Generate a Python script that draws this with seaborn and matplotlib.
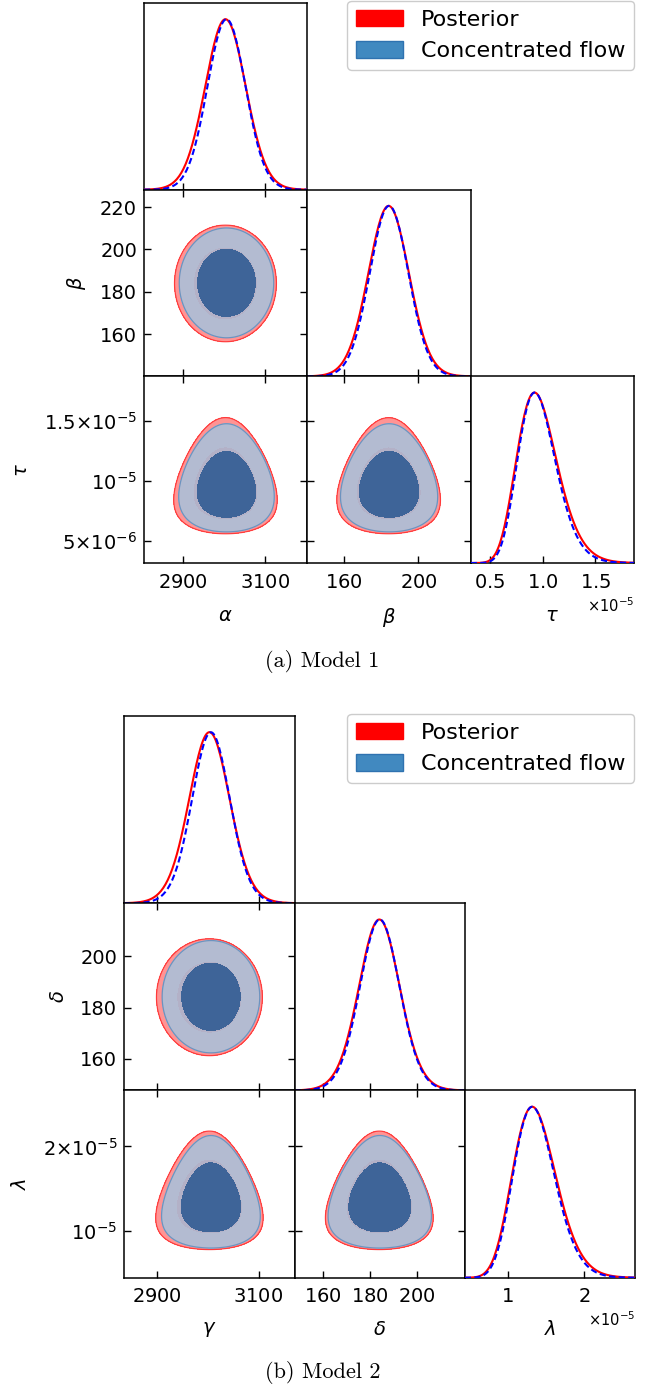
import numpy as np
import matplotlib
matplotlib.use("Agg")
import matplotlib.pyplot as plt
import seaborn as sns
from matplotlib.patches import Patch
from matplotlib.ticker import FixedLocator, FixedFormatter, ScalarFormatter, NullFormatter

# ---------------- data ----------------
# Each distribution: centre (mean, mean, median), spread (sd, sd, shape sd),
# taper (how the first two widths shrink with the third) and skew power.
# Model 1 : parameters alpha, beta, tau
M1_LABELS = [r"$\alpha$", r"$\beta$", r"$\tau$"]
M1_LIMITS = [(2805, 3204), (140, 228.2), (0.32e-5, 1.866e-5)]
M1_POST_CENTER = [3004, 183.9, 0.9576e-5]
M1_POST_SPREAD = [49.95, 11.06, 0.2028]
M1_POST_TAPER = 0.46
M1_POST_POWER = 0.143
M1_FLOW_CENTER = [3006.5, 184.15, 0.955e-5]
M1_FLOW_SPREAD = [46.7, 10.5, 0.19]
M1_FLOW_TAPER = 0.35
M1_FLOW_POWER = 0.15
M1_XTICKS = [[2900, 3100], [160, 200], [0.5e-5, 1.0e-5, 1.5e-5]]
M1_YTICKS = [[], [160, 180, 200, 220], [5e-6, 1e-5, 1.5e-5]]
M1_YTICKLABELS = [[], ["160", "180", "200", "220"],
                  [r"$5{\times}10^{-6}$", r"$10^{-5}$", r"$1.5{\times}10^{-5}$"]]

# Model 2 : parameters gamma, delta, lambda
M2_LABELS = [r"$\gamma$", r"$\delta$", r"$\lambda$"]
M2_LIMITS = [(2835, 3171), (147.7, 220.6), (0.44e-5, 2.665e-5)]
M2_POST_CENTER = [3003, 184.0, 1.361e-5]
M2_POST_SPREAD = [41.0, 8.927, 0.2099]
M2_POST_TAPER = 0.6505
M2_POST_POWER = 0.3416
M2_FLOW_CENTER = [3006, 184.2, 1.357e-5]
M2_FLOW_SPREAD = [38.08, 8.646, 0.200]
M2_FLOW_TAPER = 0.6039
M2_FLOW_POWER = 0.3397
M2_XTICKS = [[2900, 3100], [160, 180, 200], [1e-5, 2e-5]]
M2_YTICKS = [[], [160, 180, 200], [1e-5, 2e-5]]
M2_YTICKLABELS = [[], ["160", "180", "200"],
                  [r"$10^{-5}$", r"$2{\times}10^{-5}$"]]

SERIES = ["Posterior", "Concentrated flow"]
CAPTIONS = ["(a) Model 1", "(b) Model 2"]

# ---------------- styling ----------------
sns.set_style("ticks")
plt.rcParams["font.family"] = ["DejaVu Sans"]
plt.rcParams["mathtext.fontset"] = "dejavusans"
plt.rcParams["axes.linewidth"] = 1.1
for key in ("text.color", "axes.labelcolor", "xtick.color", "ytick.color", "axes.edgecolor"):
    plt.rcParams[key] = "black"

W, H = 655, 1386
fig = plt.figure(figsize=(W / 100, H / 100), dpi=100)

RED = "#ff0000"
BLUE_LIGHT = "#a7c2dc"
BLUE_DARK = "#3a6297"
BLUE_EDGE = "#6d93bf"
TICK_FS = 14
NG = 150


def joint_density(center, spread, taper, power, grids):
    a, b, t = np.meshgrid(*grids, indexing="ij")
    lr = np.log(t / center[2])
    g = np.exp(-taper * lr)
    u = np.expm1(power * lr) / power
    pt = np.exp(-0.5 * (u / spread[2]) ** 2 + (power - 1) * lr)
    sa = spread[0] * g
    sb = spread[1] * g
    return pt * np.exp(-0.5 * ((a - center[0]) / sa) ** 2
                       - 0.5 * ((b - center[1]) / sb) ** 2) / (sa * sb)


def hpd_levels(P, masses):
    flat = np.sort(P.ravel())[::-1]
    cum = np.cumsum(flat)
    cum /= cum[-1]
    return [flat[min(np.searchsorted(cum, m), flat.size - 1)] for m in masses]


def draw_2d(ax, gx, gy, P, kind):
    l95, l68 = hpd_levels(P, [0.95, 0.68])
    top = P.max() * 1.01
    if kind == 0:
        ax.contourf(gx, gy, P.T, levels=[l95, top], colors=[RED], alpha=0.42)
        ax.contourf(gx, gy, P.T, levels=[l68, top], colors=[RED], alpha=0.45)
        ax.contour(gx, gy, P.T, levels=[l95], colors=[RED], linewidths=0.9, alpha=0.6)
    else:
        ax.contourf(gx, gy, P.T, levels=[l95, top], colors=[BLUE_LIGHT], alpha=0.86)
        ax.contour(gx, gy, P.T, levels=[l95], colors=[BLUE_EDGE], linewidths=0.9)
        ax.contourf(gx, gy, P.T, levels=[l68, top], colors=[BLUE_DARK], alpha=0.97)


def corner(rect, labels, limits, models, xticks, yticks, yticklabels):
    x0, y0, x1, y1 = rect
    cw = (x1 - x0) / 3
    ch = (y1 - y0) / 3
    grids = [np.linspace(lo, hi, NG) for lo, hi in limits]
    dens = [joint_density(c, s, k, p, grids) for c, s, k, p in models]
    for i in range(3):
        for j in range(i + 1):
            left = x0 + j * cw
            top = y0 + i * ch
            ax = fig.add_axes([left / W, 1 - (top + ch) / H, cw / W, ch / H])
            for sp in ax.spines.values():
                sp.set_visible(True)
                sp.set_color("black")
                sp.set_linewidth(1.1)
            if i == j:
                axes_other = tuple(a for a in range(3) if a != i)
                for kind, P in enumerate(dens):
                    m = P.sum(axis=axes_other)
                    m = m / m.max()
                    sns.lineplot(x=grids[i], y=m, ax=ax,
                                 color=RED if kind == 0 else "#0000ff",
                                 linewidth=1.5,
                                 linestyle="-" if kind == 0 else (0, (3, 1.6)),
                                 zorder=3 if kind == 0 else 4)
                ax.set_ylim(0, 1.095)
                ax.set_yticks([])
                ax.set_ylabel("")
                ax.tick_params(axis="x", direction="in", length=5, width=1.0,
                               top=False, bottom=True, labelsize=TICK_FS, pad=7)
            else:
                other = [a for a in range(3) if a not in (i, j)][0]
                for kind, P in enumerate(dens):
                    P2 = P.sum(axis=other)   # axes ordered (j, i) since j < i
                    draw_2d(ax, grids[j], grids[i], P2, kind)
                ax.yaxis.set_major_locator(FixedLocator(yticks[i]))
                if j == 0:
                    ax.yaxis.set_major_formatter(FixedFormatter(yticklabels[i]))
                    ax.set_ylabel(labels[i], fontsize=TICK_FS, labelpad=9)
                else:
                    ax.yaxis.set_major_formatter(NullFormatter())
                ax.tick_params(axis="both", direction="in", length=5, width=1.0,
                               top=True, bottom=True, left=True, right=True,
                               labelsize=TICK_FS)
                ax.tick_params(axis="x", pad=7)
                ax.tick_params(axis="y", pad=5)
                ax.set_ylim(*limits[i])
            ax.set_xlim(*limits[j])
            ax.xaxis.set_major_locator(FixedLocator(xticks[j]))
            if i == 2:
                fmt = ScalarFormatter(useMathText=True)
                ax.xaxis.set_major_formatter(fmt)
                ax.xaxis.get_offset_text().set_fontsize(10.5)
                ax.set_xlabel(labels[j], fontsize=TICK_FS, labelpad=10)
            else:
                ax.xaxis.set_major_formatter(NullFormatter())
                ax.set_xlabel("")


corner((144, 3, 634, 563), M1_LABELS, M1_LIMITS,
       [(M1_POST_CENTER, M1_POST_SPREAD, M1_POST_TAPER, M1_POST_POWER),
        (M1_FLOW_CENTER, M1_FLOW_SPREAD, M1_FLOW_TAPER, M1_FLOW_POWER)],
       M1_XTICKS, M1_YTICKS, M1_YTICKLABELS)
corner((124.3, 716, 635, 1277.7), M2_LABELS, M2_LIMITS,
       [(M2_POST_CENTER, M2_POST_SPREAD, M2_POST_TAPER, M2_POST_POWER),
        (M2_FLOW_CENTER, M2_FLOW_SPREAD, M2_FLOW_TAPER, M2_FLOW_POWER)],
       M2_XTICKS, M2_YTICKS, M2_YTICKLABELS)

handles = [Patch(facecolor=RED, edgecolor=RED),
           Patch(facecolor="#4189c0", edgecolor="#2f72b0")]
for ytop in (1, 714):
    fig.legend(handles, SERIES, loc="upper right",
               bbox_to_anchor=(634 / W, 1 - ytop / H), borderaxespad=0,
               fontsize=16, handlelength=2.1, handleheight=0.77,
               frameon=True, edgecolor="0.8", framealpha=1)

fig.text(322.5 / W, 1 - 661.5 / H, CAPTIONS[0], ha="center", va="center",
         fontfamily="cmr10", fontsize=16)
fig.text(322.5 / W, 1 - 1373 / H, CAPTIONS[1], ha="center", va="center",
         fontfamily="cmr10", fontsize=16)

fig.savefig("out.png", dpi=100)
